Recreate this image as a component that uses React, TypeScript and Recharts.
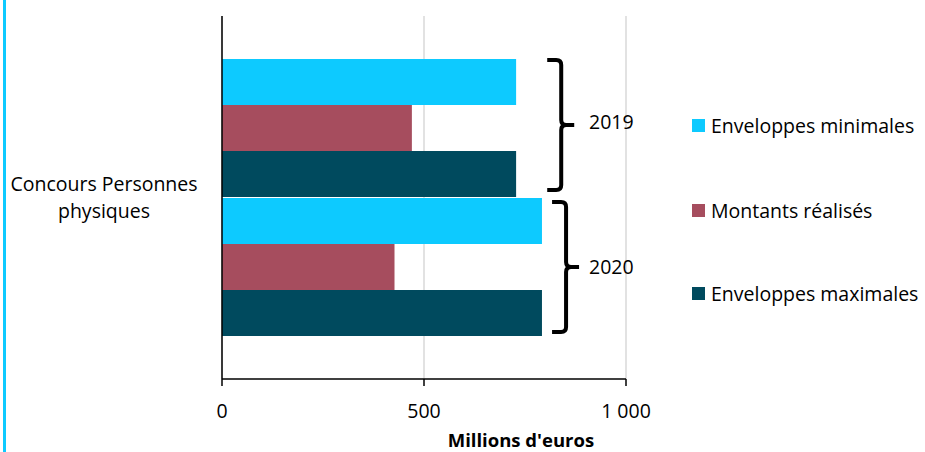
import React from 'react';
import { BarChart, Bar, XAxis, YAxis, CartesianGrid, LabelList } from 'recharts';

const years = ['2019', '2020'];
const enveloppesMinimales = [728, 792];
const montantsRealises = [470, 427];
const enveloppesMaximales = [728, 792];
const seriesNames = ['Enveloppes minimales', 'Montants réalisés', 'Enveloppes maximales'];
const seriesKeys = ['min', 'real', 'max'];
const seriesColors = ['#0DCAFF', '#A64D5E', '#004A5E'];
const xTicks = [0, 500, 1000];
const xTickLabels = ['0', '500', '1 000'];
const categoryLabel = ['Concours Personnes', 'physiques'];
const axisTitle = "Millions d'euros";
const bracketAt = [805, 817];

const data = years.map((y, i) => ({
  year: y,
  min: enveloppesMinimales[i],
  real: montantsRealises[i],
  max: enveloppesMaximales[i],
}));

const FONT = '"Open Sans", sans-serif';
const FS = 19.5;

const BracketLabel = (props: any) => {
  const vb = props.viewBox || {};
  const x = vb.x ?? props.x;
  const y = vb.y ?? props.y;
  const w = vb.width ?? props.width;
  const h = vb.height ?? props.height;
  const idx = props.index ?? 0;
  const value = montantsRealises[idx];
  const px = (v: number) => x + (w * v) / value;
  const top = y - h + 1 + idx * 3;
  const bot = y + 2 * h - 7 + idx * 3;
  const mid = (top + bot) / 2;
  const L = px(bracketAt[idx]);
  const V = L + 14;
  const T = V + 13;
  const r = 5;
  const d = `M ${L} ${top} H ${V - r} Q ${V} ${top} ${V} ${top + r} V ${mid - r} Q ${V} ${mid} ${V + r} ${mid} H ${T} M ${V + r} ${mid} Q ${V} ${mid} ${V} ${mid + r} V ${bot - r} Q ${V} ${bot} ${V - r} ${bot} H ${L}`;
  return (
    <g>
      <path d={d} fill="none" stroke="#000" strokeWidth={4} />
      <text x={589} y={mid - (idx === 0 ? 3 : 0)} dy="0.35em" fontSize={FS} fontFamily={FONT} fill="#000">
        {years[idx]}
      </text>
    </g>
  );
};

const CategoryLabel = () => {
  return (
    <text x={104} textAnchor="middle" fontSize={FS} fontFamily={FONT} fill="#000">
      <tspan x={104} y={191}>{categoryLabel[0]}</tspan>
      <tspan x={104} y={218}>{categoryLabel[1]}</tspan>
    </text>
  );
};

const XTitle = (props: any) => {
  const vb = props.viewBox || {};
  const cx = vb.x + vb.width * 0.74;
  return (
    <text x={cx} y={447} textAnchor="middle" fontSize={18.5} fontWeight={700} fontFamily={FONT} fill="#000">
      {axisTitle}
    </text>
  );
};

export default function App() {
  return (
    <div style={{ position: 'fixed', left: 0, top: 0, width: 925, height: 452, background: '#fff', overflow: 'hidden' }}>
      <div style={{ position: 'absolute', left: 3, top: 0, width: 3, height: 452, background: '#0DCAFF' }} />
      <BarChart
        width={925}
        height={452}
        data={data}
        layout="vertical"
        margin={{ top: 16, right: 299, bottom: 13, left: 0 }}
        barCategoryGap={0}
        barGap={0}
      >
        <CartesianGrid horizontal={false} vertical={true} stroke="#D9D9D9" strokeWidth={1.5} />
        <XAxis
          type="number"
          domain={[0, 1000]}
          ticks={xTicks}
          tickFormatter={(v: number) => xTickLabels[xTicks.indexOf(v)]}
          axisLine={{ stroke: '#000', strokeWidth: 1.5 }}
          tickLine={{ stroke: '#000', strokeWidth: 1.5 }}
          tickSize={7}
          tickMargin={18}
          height={60}
          tick={{ fontSize: FS, fontFamily: FONT, fill: '#000' }}
          label={<XTitle />}
        />
        <YAxis
          type="category"
          dataKey="year"
          width={222}
          tick={false}
          tickLine={false}
          axisLine={{ stroke: '#000', strokeWidth: 1.5 }}
          padding={{ top: 43, bottom: 42 }}
          label={<CategoryLabel />}
        />
        {seriesKeys.map((k, i) => (
          <Bar key={k} dataKey={k} name={seriesNames[i]} fill={seriesColors[i]} isAnimationActive={false}>
            {k === 'real' ? <LabelList dataKey="real" content={<BracketLabel />} /> : null}
          </Bar>
        ))}
      </BarChart>
      <div style={{ position: 'absolute', left: 692, top: 0 }}>
        {seriesNames.map((n, i) => (
          <div
            key={n}
            style={{
              position: 'absolute',
              top: [125, 210, 293][i] - 14,
              left: 0,
              height: 28,
              display: 'flex',
              alignItems: 'center',
              whiteSpace: 'nowrap',
              fontFamily: FONT,
              fontSize: FS,
              color: '#000',
            }}
          >
            <span style={{ display: 'inline-block', width: 13, height: 13, background: seriesColors[i], marginRight: 6 }} />
            <span>{n}</span>
          </div>
        ))}
      </div>
    </div>
  );
}
